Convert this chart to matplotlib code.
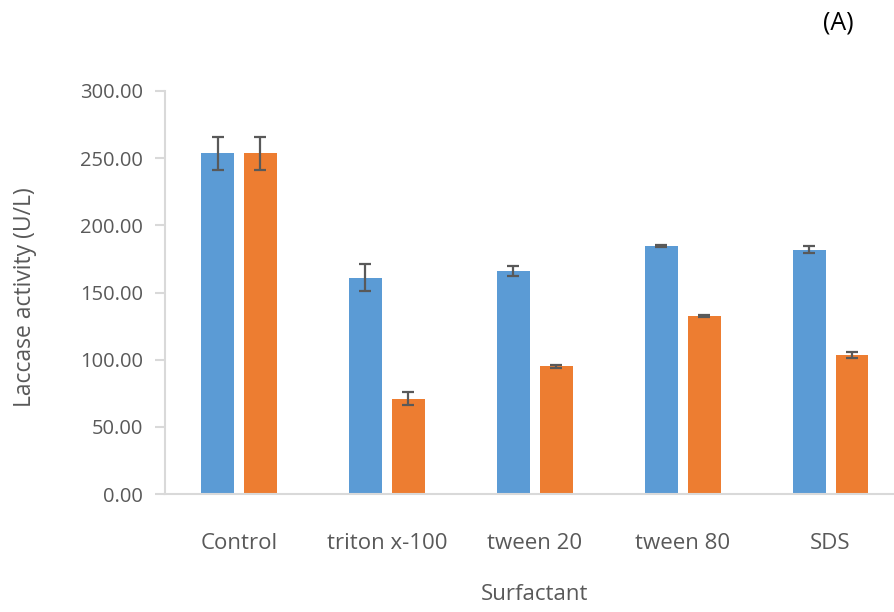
import matplotlib
matplotlib.use("Agg")
import matplotlib.pyplot as plt
import numpy as np

categories = ["Control", "triton x-100", "tween 20", "tween 80", "SDS"]
series_a = [253.5, 161.0, 166.0, 184.6, 182.0]
series_a_err = [12.5, 10.0, 4.0, 0.6, 2.8]
series_b = [253.5, 71.0, 95.0, 132.7, 103.2]
series_b_err = [12.5, 4.7, 1.0, 0.6, 2.2]

plt.rcParams['font.family'] = ['Open Sans', 'DejaVu Sans']

fig = plt.figure(figsize=(8.94, 6.12), dpi=100)
ax = fig.add_axes([165 / 894, 1 - 494 / 612, 739.5 / 894, (494 - 91) / 612])

x = np.arange(len(categories))
w = 0.223
off = 0.145
err_kw = dict(ecolor="#595959", elinewidth=1.6, capsize=4, capthick=1.6)
ax.bar(x - off, series_a, w, color="#5B9BD5", yerr=series_a_err, error_kw=err_kw, zorder=2)
ax.bar(x + off, series_b, w, color="#ED7D31", yerr=series_b_err, error_kw=err_kw, zorder=2)

ax.set_xlim(-0.5, len(categories) - 0.5)
ax.set_ylim(0, 300)
ax.set_yticks(np.arange(0, 301, 50))
ax.set_yticklabels([f"{v:.2f}" for v in np.arange(0, 301, 50)])
ax.set_xticks(x)
ax.set_xticklabels(categories)

for s in ["top", "right"]:
    ax.spines[s].set_visible(False)
for s in ["left", "bottom"]:
    ax.spines[s].set_color("#D9D9D9")
    ax.spines[s].set_linewidth(1.5)

ax.tick_params(axis="y", colors="#D9D9D9", labelcolor="#595959", length=7, width=1.5,
               labelsize=14.5, pad=9)
ax.tick_params(axis="x", length=0, labelcolor="#595959", labelsize=16, pad=28)

fig.text(25 / 894, 1 - 297 / 612, "Laccase activity (U/L)", color="#595959", fontsize=16.5,
         rotation=90, ha="center", va="center")
fig.text(535 / 894, 1 - 595 / 612, "Surfactant", color="#595959", fontsize=16,
         ha="center", va="center")
fig.text(838 / 894, 1 - 23 / 612, "(A)", color="#000000", fontsize=18,
         ha="center", va="center")

fig.savefig("out.png", dpi=100)
